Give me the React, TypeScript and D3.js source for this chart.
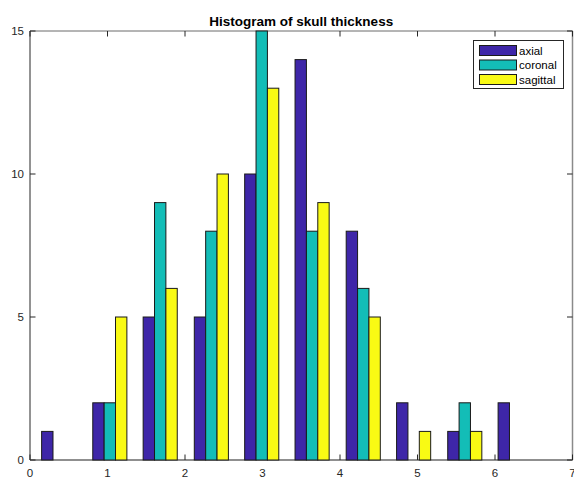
import React from "react";
import * as d3 from "d3";

// bin centres of the histogram
const binCenters = [0.37, 1.03, 1.68, 2.34, 2.99, 3.64, 4.3, 4.95, 5.61, 6.26];
const axial = [1, 2, 5, 5, 10, 14, 8, 2, 1, 2];
const coronal = [0, 2, 9, 8, 15, 8, 6, 0, 2, 0];
const sagittal = [0, 5, 6, 10, 13, 9, 5, 1, 1, 0];
const seriesNames = ["axial", "coronal", "sagittal"];
const seriesColors = ["#3e26a8", "#13bdb7", "#f9fa14"];
const xTicks = [0, 1, 2, 3, 4, 5, 6, 7];
const yTicks = [0, 5, 10, 15];

const W = 574;
const H = 479;
const margin = { top: 31, right: 1.5, bottom: 19, left: 30 };

const App: React.FC = () => {
  const series = [axial, coronal, sagittal];
  const x = d3.scaleLinear().domain([0, 7]).range([margin.left, W - margin.right]);
  const y = d3.scaleLinear().domain([0, 15]).range([H - margin.bottom, margin.top]);

  const binW = binCenters[1] - binCenters[0];
  const groupW = binW * (3 / 4.5); // matlab grouped bar width
  const barW = groupW / series.length;

  const x0 = x(0);
  const x1 = x(7);
  const yTop = y(15);
  const yBot = y(0);
  const tick = 5.5;
  const font = "'Liberation Sans', Arial, Helvetica, sans-serif";
  const axisCol = "#262626";

  return (
    <svg
      width={W}
      height={H}
      style={{ position: "absolute", left: 0, top: 0, background: "#fff" }}
      fontFamily={font}
    >
      {/* box */}
      <line x1={x0} x2={x0} y1={yTop} y2={yBot} stroke={axisCol} />
      <line x1={x0} x2={x1} y1={yBot} y2={yBot} stroke="#6a6a6a" strokeWidth={1.5} />
      <line x1={x0} x2={x1} y1={yTop} y2={yTop} stroke="#6a6a6a" strokeWidth={1} />
      <line x1={x1} x2={x1} y1={yTop} y2={yBot} stroke="#8a8a8a" strokeWidth={1.5} />

      {/* x ticks */}
      {xTicks.map((t) => (
        <g key={`xt${t}`}>
          <line x1={x(t)} x2={x(t)} y1={yBot} y2={yBot - tick} stroke={axisCol} />
          <line x1={x(t)} x2={x(t)} y1={yTop} y2={yTop + tick} stroke={axisCol} />
          <text x={x(t)} y={H - 2} textAnchor="middle" fontSize={11.5} fill="#262626">
            {t}
          </text>
        </g>
      ))}

      {/* y ticks */}
      {yTicks.map((t) => (
        <g key={`yt${t}`}>
          <line x1={x0} x2={x0 + tick} y1={y(t)} y2={y(t)} stroke={axisCol} />
          <line x1={x1} x2={x1 - tick} y1={y(t)} y2={y(t)} stroke={axisCol} />
          <text
            x={x0 - 6}
            y={y(t)}
            dy="0.35em"
            textAnchor="end"
            fontSize={11.5}
            fill="#262626"
          >
            {t}
          </text>
        </g>
      ))}

      {/* bars (zero-height bins leave a dark edge on the baseline) */}
      {series.map((vals, si) =>
        vals.map((v, i) => {
          const left = binCenters[i] - groupW / 2 + si * barW;
          const px = x(left);
          const pw = x(left + barW) - px;
          return (
            <rect
              key={`${si}-${i}`}
              x={px}
              y={y(v)}
              width={pw}
              height={yBot - y(v)}
              fill={seriesColors[si]}
              stroke="#1a1a1a"
              strokeWidth={v === 0 ? 1.5 : 1}
            />
          );
        })
      )}

      {/* title */}
      <text
        x={(x0 + x1) / 2}
        y={26}
        textAnchor="middle"
        fontSize={13.5}
        fontWeight="bold"
        fill="#000"
      >
        Histogram of skull thickness
      </text>

      {/* legend */}
      <g>
        <rect x={473.5} y={40.5} width={90} height={48} fill="#fff" stroke="#262626" />
        {seriesNames.map((name, i) => {
          const cy = 50.5 + i * 14.5;
          return (
            <g key={name}>
              <rect
                x={479.5}
                y={cy - 5}
                width={37}
                height={10}
                fill={seriesColors[i]}
                stroke="#1a1a1a"
              />
              <text x={519} y={cy} dy="0.35em" fontSize={11.5} fill="#000">
                {name}
              </text>
            </g>
          );
        })}
      </g>
    </svg>
  );
};

export default App;
